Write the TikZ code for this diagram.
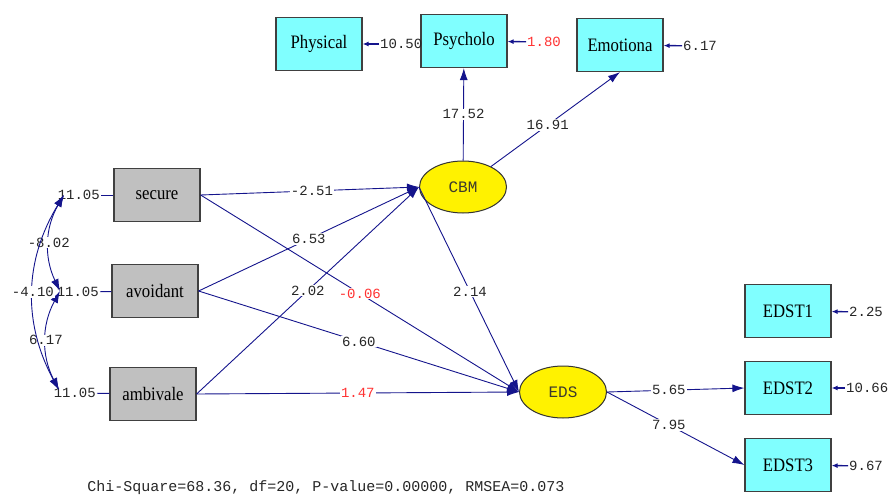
\documentclass[tikz,border=0pt]{standalone}
\usepackage{fontspec}
\newfontfamily\numfont{Liberation Mono}
\newfontfamily\boxfont[FakeStretch=0.88]{Liberation Serif}
\usetikzlibrary{arrows.meta,shapes.geometric}
\definecolor{navy}{RGB}{20,20,140}
\definecolor{cyanbox}{RGB}{128,255,255}
\definecolor{graybox}{RGB}{192,192,192}
\definecolor{lblred}{RGB}{255,50,50}
\begin{document}
\begin{tikzpicture}[x=1pt,y=-1pt,
  obs/.style={draw=black!75, line width=1.2pt, fill=cyanbox, minimum width=86pt, minimum height=53pt, inner sep=0pt, font=\boxfont\fontsize{19pt}{19pt}\selectfont},
  exo/.style={obs, fill=graybox},
  lat/.style={ellipse, draw=black!80, line width=1pt, fill=yellow, minimum width=87pt, minimum height=52pt, inner sep=0pt, text=black!75!olive, font=\numfont\fontsize{16pt}{16pt}\selectfont},
  arc/.style={draw=navy, line width=0.9pt, -{Latex[length=12pt,width=8pt]}},
  errarc/.style={draw=navy, line width=1.4pt, -{Latex[length=6pt,width=5pt]}},
  plain/.style={draw=navy, line width=0.9pt},
  covar/.style={draw=navy, line width=0.9pt, {Latex[length=12pt,width=8pt]}-{Latex[length=12pt,width=8pt]}},
  lbl/.style={fill=white, inner sep=1pt, text=black!85, font=\numfont\fontsize{14pt}{14pt}\selectfont},
  rlbl/.style={lbl, text=lblred},
  nb/.style={inner sep=1pt, text=black!85, font=\numfont\fontsize{14pt}{14pt}\selectfont}
]
\useasboundingbox (0,0) rectangle (888,497);

% observed
\node[exo] (sec) at (157,195) {secure};
\node[exo] (avo) at (155,291) {avoidant};
\node[exo] (amb) at (153,394) {ambivale};
\node[obs] (phy) at (319,44) {Physical};
\node[obs] (psy) at (464,41) {Psycholo};
\node[obs] (emo) at (620,45) {Emotiona};
\node[obs] (e1) at (788,311) {EDST1};
\node[obs] (e2) at (788,388) {EDST2};
\node[obs] (e3) at (788,465) {EDST3};

% latent
\node[lat] (cbm) at (463,187) {CBM};
\node[lat] (eds) at (563,392) {EDS};

% error terms
\node[nb, anchor=west] (ephy) at (379,44) {10.50};
\node[nb, anchor=west, text=lblred] (epsy) at (526,42) {1.80};
\node[nb, anchor=west] (eemo) at (682,46) {6.17};
\node[nb, anchor=west] (ee1) at (848,312) {2.25};
\node[nb, anchor=west] (ee2) at (845,388) {10.66};
\node[nb, anchor=west] (ee3) at (848,466) {9.67};
\draw[errarc] (ephy) -- (phy);
\draw[errarc] (epsy) -- (psy);
\draw[errarc] (eemo) -- (emo);
\draw[errarc] (ee1) -- (e1);
\draw[errarc] (ee2) -- (e2);
\draw[errarc] (ee3) -- (e3);

% variances of exogenous
\node[nb, anchor=east] (vs) at (101,195) {11.05};
\node[nb, anchor=east] (va) at (100,292) {11.05};
\node[nb, anchor=east] (vb) at (97,393) {11.05};
\draw[plain] (vs) -- (sec);
\draw[plain] (va) -- (avo);
\draw[plain] (vb) -- (amb);

\coordinate (cs) at (64,195);
\coordinate (ca) at (60,291);
\coordinate (cb) at (59,390);
\draw[covar] (cs) to[bend right=28] node[lbl, pos=0.5] {-8.02} (ca);
\draw[covar] (ca) to[bend right=28] node[lbl, pos=0.5] {6.17} (cb);
\draw[covar] (cs) to[bend right=30] node[lbl, pos=0.5] {-4.10} (cb);

% structural paths
\draw[arc] (sec.east) -- node[lbl, pos=0.51] {-2.51} (cbm.west);
\draw[arc] (sec.east) -- node[rlbl, pos=0.5] {-0.06} (eds.west);
\draw[arc] (avo.east) -- node[lbl, pos=0.5] {6.53} (cbm.west);
\draw[arc] (avo.east) -- node[lbl, pos=0.5] {6.60} (eds.west);
\draw[arc] (amb.east) -- node[lbl, pos=0.5] {2.02} (cbm.west);
\draw[arc] (amb.east) -- node[rlbl, pos=0.5] {1.47} (eds.west);
\draw[arc] (cbm.west) -- node[lbl, pos=0.51] {2.14} (eds.west);
\draw[arc] (cbm) -- node[lbl, pos=0.5] {17.52} (psy);
\draw[arc] (cbm) -- node[lbl, pos=0.44] {16.91} (emo.south);
\draw[arc] (eds.east) -- node[lbl, pos=0.45] {5.65} (e2.west);
\draw[arc] (eds.east) -- node[lbl, pos=0.45] {7.95} (e3.west);

\node[font=\numfont\fontsize{15pt}{15pt}\selectfont, text=black!85] (chi) at (326,488) {Chi-Square=68.36, df=20, P-value=0.00000, RMSEA=0.073};
\end{tikzpicture}
\end{document}
